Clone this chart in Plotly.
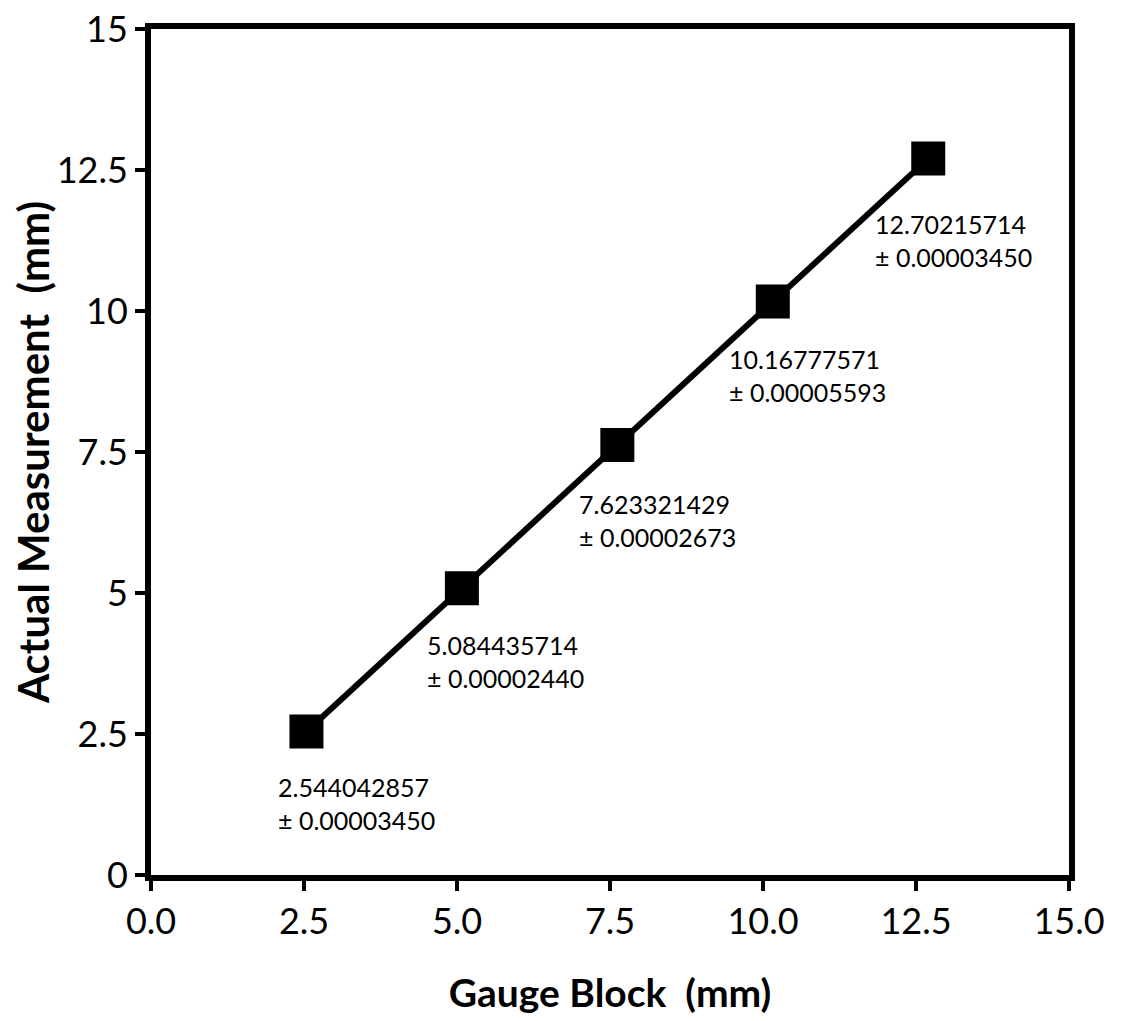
import plotly.graph_objects as go

gauge_block = [2.54, 5.08, 7.62, 10.16, 12.70]
actual = [2.544042857, 5.084435714, 7.623321429, 10.16777571, 12.70215714]
labels_value = ["2.544042857", "5.084435714", "7.623321429", "10.16777571", "12.70215714"]
labels_unc = ["± 0.00003450", "± 0.00002440", "± 0.00002673", "± 0.00005593", "± 0.00003450"]
x_ticks = [0, 2.5, 5, 7.5, 10, 12.5, 15]
y_ticks = [0, 2.5, 5, 7.5, 10, 12.5, 15]
y_ticktext = ["0", "2.5", "5", "7.5", "10", "12.5", "15"]

# label pixel offsets (style)
label_dx = [-30, -37, -40, -46, -55]
label_dy = [-38, -40, -42, -40, -48]

FONT = "Lato"

fig = go.Figure()
fig.add_trace(go.Scatter(
    x=gauge_block, y=actual, mode="lines+markers",
    line=dict(color="black", width=6),
    marker=dict(symbol="square", size=34, color="black"),
    showlegend=False,
))

for xv, yv, a, b, dx, dy in zip(gauge_block, actual, labels_value, labels_unc, label_dx, label_dy):
    fig.add_annotation(
        x=xv, y=yv, xref="x", yref="y",
        text=a + "<br>" + b, showarrow=False,
        xanchor="left", yanchor="top", align="left",
        xshift=dx, yshift=dy,
        font=dict(family=FONT, size=25, color="black"),
    )

fig.update_layout(
    width=1131, height=1021,
    margin=dict(l=143, r=70, t=21, b=154),
    paper_bgcolor="white", plot_bgcolor="white",
    font=dict(family=FONT, color="black"),
)
fig.update_xaxes(
    range=[0, 15], tickvals=x_ticks, tickformat=".1f", automargin=False,
    ticklabeloverflow="allow",
    showline=True, linewidth=6, linecolor="black", mirror=True,
    ticks="outside", ticklen=10, tickwidth=4, tickcolor="black",
    showgrid=False, zeroline=False,
    tickfont=dict(family=FONT, size=36),
    title=dict(text="<b>Gauge Block  (mm)</b>", font=dict(family=FONT, size=39), standoff=40),
)
fig.update_yaxes(
    range=[0, 15], tickvals=y_ticks, ticktext=y_ticktext, automargin=False,
    ticklabeloverflow="allow",
    showline=True, linewidth=6, linecolor="black", mirror=True,
    ticks="outside", ticklen=10, tickwidth=4, tickcolor="black",
    showgrid=False, zeroline=False,
    tickfont=dict(family=FONT, size=36),
    title=dict(text="<b>Actual Measurement  (mm)</b>", font=dict(family=FONT, size=42), standoff=20),
)

fig.write_html("out.html")
